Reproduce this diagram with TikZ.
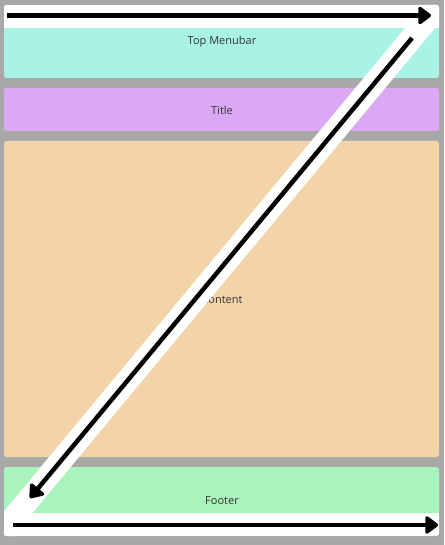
\documentclass[tikz,border=0pt]{standalone}
\usepackage{fontspec}
\setmainfont{Open Sans}
\usetikzlibrary{arrows.meta}
\definecolor{bggray}{HTML}{A8A8A8}
\definecolor{menuc}{HTML}{A9F3E4}
\definecolor{titlec}{HTML}{DBA9F3}
\definecolor{contc}{HTML}{F3D4A9}
\definecolor{footc}{HTML}{A9F3BD}
\definecolor{txtc}{HTML}{333333}
\tikzset{
  panel/.style={draw=none, rounded corners=2.5pt, minimum width=435pt, inner sep=0pt,
    fill=#1},
  lbl/.style={text=txtc, font=\fontsize{11}{13}\selectfont, inner sep=0pt},
  band/.style={white, line width=23pt},
  flow/.style={line width=4.5pt, -{Triangle[length=14pt,width=20pt,round]}, black}
}
\begin{document}
\begin{tikzpicture}[x=1pt,y=-1pt]
\fill[bggray] (0,0) rectangle (444,545);
\useasboundingbox (0,0) rectangle (444,545);
% panels
\node[panel=menuc, minimum height=73pt] (menu) at (221.5,41.5) {};
\node[panel=titlec, minimum height=43pt] (title) at (221.5,109.5) {};
\node[panel=contc, minimum height=316pt] (content) at (221.5,299) {};
\node[panel=footc, minimum height=69pt] (footer) at (221.5,501.5) {};
\node[lbl] (menulbl) at (222,42) {Top Menubar};
\node[lbl] (titlelbl) at (222,110.5) {Title};
\node[lbl] (contlbl) at (222,300) {Content};
\node[lbl] (footlbl) at (222,501) {Footer};
% white bands
\begin{scope}
\clip[rounded corners=2.5pt] (4,5) rectangle (439,536);
\fill[white] (4,5) rectangle (439,28);
\fill[white] (4,513) rectangle (439,536);
\draw[band] (440,4) -- (-2,536.5);
\end{scope}
% arrows
\coordinate (a1) at (7,15.5);
\coordinate (a2) at (431,15.5);
\coordinate (d1) at (412,38);
\coordinate (d2) at (30,498);
\coordinate (b1) at (13,525);
\coordinate (b2) at (438,525);
\draw[flow] (a1) -- (a2);
\draw[flow] (d1) -- (d2);
\draw[flow] (b1) -- (b2);
\end{tikzpicture}
\end{document}
